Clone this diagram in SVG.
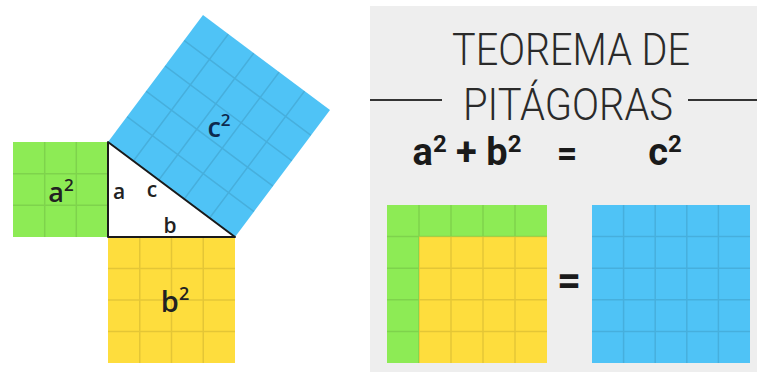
<svg xmlns="http://www.w3.org/2000/svg" width="757" height="372" viewBox="0 0 757 372">
<defs>
<style>
.grid{fill:none;stroke:#000;stroke-opacity:0.1;stroke-width:1.5}
.green{fill:#8deb55}
.yellow{fill:#fedd3d}
.blue{fill:#4fc3f6}
.lbl{font-family:"Open Sans","DejaVu Sans",sans-serif;font-weight:600;fill:#222;text-anchor:middle}
.title{font-family:Roboto,"Liberation Sans",sans-serif;font-weight:300;fill:#2a2a2a;text-anchor:middle}
.eq{font-family:Roboto,"Liberation Sans",sans-serif;font-weight:700;fill:#1a1a1a;text-anchor:middle}
</style>
</defs>
<rect width="757" height="372" fill="#ffffff"/>
<g id="panel">
<rect x="370" y="6" width="387" height="366" fill="#eeeeee"/>
</g>
<g id="square-a2">
<rect class="green" x="13" y="142" width="95" height="95"/>
<path class="grid" d="M44.7 142V237M76.3 142V237M13 173.7H108M13 205.3H108"/>
<text class="lbl" x="61" y="202" font-size="27">a<tspan font-size="17" dy="-11">2</tspan></text>
</g>
<g id="square-b2">
<rect class="yellow" x="108" y="237" width="127" height="126"/>
<path class="grid" d="M139.75 237V363M171.5 237V363M203.25 237V363M108 268.5H235M108 300H235M108 331.5H235"/>
<text class="lbl" x="175" y="312" font-size="29">b<tspan font-size="18" dy="-12">2</tspan></text>
</g>
<g id="square-c2">
<g transform="translate(108 142) rotate(36.8)">
<rect class="blue" x="0" y="-158.6" width="158.6" height="158.6"/>
<path class="grid" d="M31.72 0V-158.6M63.44 0V-158.6M95.16 0V-158.6M126.88 0V-158.6M0 -31.72H158.6M0 -63.44H158.6M0 -95.16H158.6M0 -126.88H158.6"/>
</g>
<text class="lbl" x="219" y="137" font-size="27" style="fill:#0d2a4f">c<tspan font-size="17" dy="-11">2</tspan></text>
</g>
<g id="triangle">
<polygon points="108,142 108,237 235,237" fill="#ffffff" stroke="#1a1a1a" stroke-width="2" stroke-linejoin="round"/>
<text class="lbl" x="119" y="199" font-size="21">a</text>
<text class="lbl" x="152" y="197" font-size="21">c</text>
<text class="lbl" x="170" y="233" font-size="21">b</text>
</g>
<g id="title">
<text class="title" x="571" y="65" font-size="44" textLength="238" lengthAdjust="spacingAndGlyphs">TEOREMA DE</text>
<text class="title" x="568" y="120" font-size="44" textLength="210" lengthAdjust="spacingAndGlyphs">PITÁGORAS</text>
</g>
<g id="connectors">
<line x1="370" y1="100" x2="442" y2="100" stroke="#333" stroke-width="2"/>
<line x1="688" y1="100" x2="757" y2="100" stroke="#333" stroke-width="2"/>
</g>
<g id="formula">
<text class="eq" x="467" y="165" font-size="38">a<tspan font-size="24" dy="-13">2</tspan><tspan dy="13"> + b</tspan><tspan font-size="24" dy="-13">2</tspan></text>
<text class="eq" x="567" y="166" font-size="36">=</text>
<text class="eq" x="665" y="165" font-size="38">c<tspan font-size="24" dy="-13">2</tspan></text>
</g>
<g id="sum-square">
<rect class="green" x="387" y="205" width="160" height="158"/>
<rect class="yellow" x="419" y="236.6" width="128" height="126.4"/>
<path class="grid" d="M419 205V363M451 205V363M483 205V363M515 205V363M387 236.6H547M387 268.2H547M387 299.8H547M387 331.4H547"/>
</g>
<g id="equals">
<text class="eq" x="569" y="295" font-size="42">=</text>
</g>
<g id="result-square">
<rect class="blue" x="592" y="205" width="158" height="158"/>
<path class="grid" d="M623.6 205V363M655.2 205V363M686.8 205V363M718.4 205V363M592 236.6H750M592 268.2H750M592 299.8H750M592 331.4H750"/>
</g>
</svg>
